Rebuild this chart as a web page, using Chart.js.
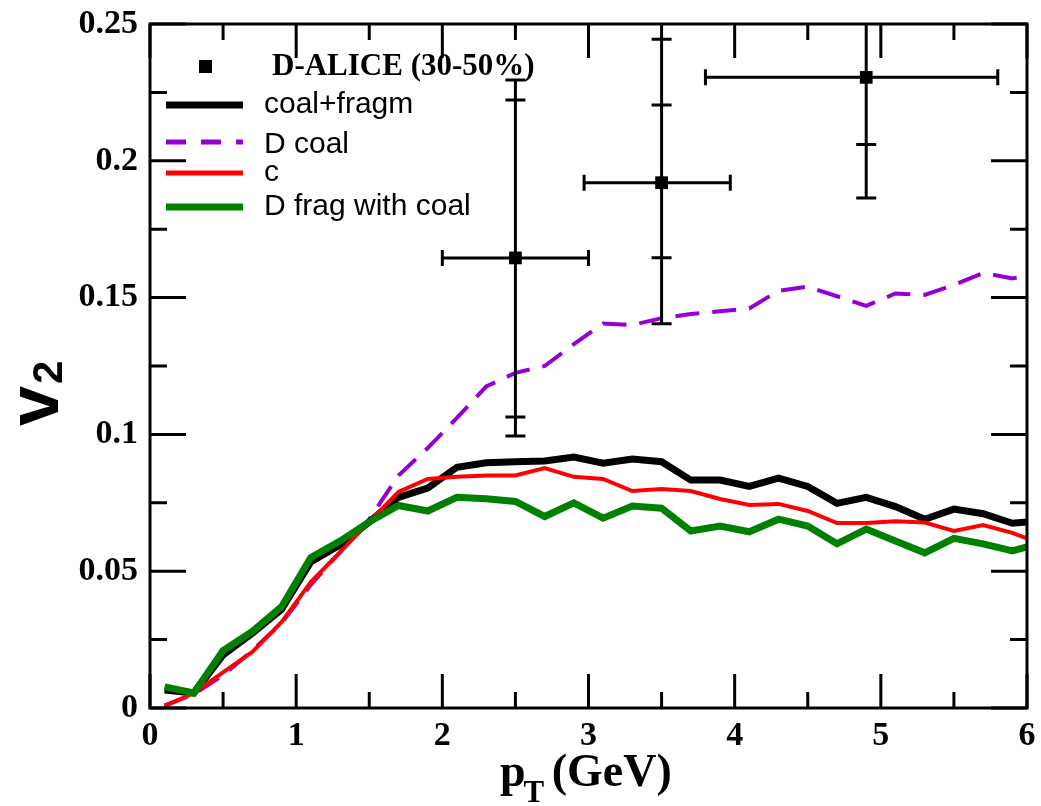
<!DOCTYPE html>
<html>
<head>
<meta charset="utf-8">
<script src="https://cdn.jsdelivr.net/npm/chart.js@4.4.1/dist/chart.umd.min.js"></script>
<style>
  html, body { margin: 0; padding: 0; background: #fff; }
  #wrap { width: 1041px; height: 806px; position: relative; }
</style>
</head>
<body>
<div id="wrap"><canvas id="v2Chart"></canvas></div>
<script>
// --- data ---
const pT = [0.1, 0.3, 0.5, 0.7, 0.9, 1.1, 1.3, 1.5, 1.7, 1.9, 2.1, 2.3, 2.5, 2.7, 2.9,
            3.1, 3.3, 3.5, 3.7, 3.9, 4.1, 4.3, 4.5, 4.7, 4.9, 5.1, 5.3, 5.5, 5.7, 5.9, 6.0];

const coalFragm = [0.0066, 0.0055, 0.0194, 0.0273, 0.036, 0.0534, 0.0596, 0.068, 0.077, 0.0804,
                   0.088, 0.0896, 0.090, 0.0903, 0.0917, 0.0895, 0.091, 0.090, 0.0833, 0.0833,
                   0.081, 0.084, 0.081, 0.0748, 0.077, 0.0736, 0.069, 0.0727, 0.071, 0.0675, 0.068];

const dCoal = [0.001, 0.005, 0.012, 0.021, 0.031, 0.045, 0.057, 0.069, 0.085, 0.095,
               0.106, 0.1175, 0.1225, 0.125, 0.133, 0.1405, 0.140, 0.1425, 0.144, 0.145,
               0.146, 0.1525, 0.154, 0.1505, 0.147, 0.1515, 0.151, 0.1546, 0.159, 0.157, 0.158];

const cQuark = [0.0007, 0.0055, 0.013, 0.0205, 0.0314, 0.046, 0.057, 0.068, 0.079, 0.0837,
                0.0845, 0.085, 0.085, 0.0877, 0.0845, 0.0837, 0.0793, 0.080, 0.0793, 0.0764,
                0.0742, 0.0746, 0.072, 0.0676, 0.0676, 0.0683, 0.0678, 0.0647, 0.0669, 0.064, 0.062];

const dFrag = [0.0077, 0.0055, 0.021, 0.028, 0.037, 0.055, 0.061, 0.068, 0.074, 0.072,
               0.077, 0.0765, 0.0755, 0.070, 0.075, 0.0694, 0.0738, 0.073, 0.0647, 0.0665,
               0.0644, 0.069, 0.0665, 0.060, 0.0654, 0.061, 0.0567, 0.062, 0.060, 0.0574, 0.0589];

// ALICE D mesons 30-50%
const aliceX = [2.5, 3.5, 4.9];
const aliceV2 = [0.1645, 0.192, 0.2305];
const aliceXLow = [2.0, 2.97, 3.8];
const aliceXHigh = [3.0, 3.97, 5.8];
const aliceStatLow = [0.0994, 0.1404, 0.1864];
const aliceStatHigh = [0.2295, 0.2444, 0.2746];
const aliceSysLow = [0.1064, 0.1646, 0.206];
const aliceSysHigh = [0.2222, 0.2204, 0.255];

const xMajorTicks = [0, 1, 2, 3, 4, 5, 6];
const yMajorTicks = [0, 0.05, 0.1, 0.15, 0.2, 0.25];

const serif = '"Liberation Serif", "DejaVu Serif", serif';
const sans = '"Liberation Sans", Arial, sans-serif';

function toPoints(xs, ys) {
    return xs.map((x, i) => ({ x: x, y: ys[i] }));
}

// frame, inward ticks, error bars, axis titles, legend
const decorPlugin = {
    id: 'decor',
    afterDatasetsDraw(chart) {
        const ctx = chart.ctx;
        const area = chart.chartArea;
        const xs = chart.scales.x;
        const ys = chart.scales.y;

        // error bars (stat with caps, sys as short marks)
        ctx.save();
        ctx.beginPath();
        ctx.rect(area.left, area.top, area.right - area.left, area.bottom - area.top);
        ctx.clip();
        ctx.strokeStyle = '#000';
        ctx.lineWidth = 3;
        for (let i = 0; i < aliceX.length; i++) {
            const px = xs.getPixelForValue(aliceX[i]);
            const py = ys.getPixelForValue(aliceV2[i]);
            const xl = xs.getPixelForValue(aliceXLow[i]);
            const xh = xs.getPixelForValue(aliceXHigh[i]);
            const yl = ys.getPixelForValue(aliceStatLow[i]);
            const yh = ys.getPixelForValue(aliceStatHigh[i]);
            ctx.beginPath();
            ctx.moveTo(xl, py); ctx.lineTo(xh, py);
            ctx.moveTo(xl, py - 8); ctx.lineTo(xl, py + 8);
            ctx.moveTo(xh, py - 8); ctx.lineTo(xh, py + 8);
            ctx.moveTo(px, yl); ctx.lineTo(px, yh);
            ctx.moveTo(px - 10, yl); ctx.lineTo(px + 10, yl);
            ctx.moveTo(px - 10, yh); ctx.lineTo(px + 10, yh);
            const sl = ys.getPixelForValue(aliceSysLow[i]);
            const sh = ys.getPixelForValue(aliceSysHigh[i]);
            ctx.moveTo(px - 10, sl); ctx.lineTo(px + 10, sl);
            ctx.moveTo(px - 10, sh); ctx.lineTo(px + 10, sh);
            ctx.stroke();
        }
        ctx.restore();

        // frame + ticks
        ctx.save();
        ctx.strokeStyle = '#000';
        ctx.lineWidth = 3;
        ctx.strokeRect(area.left, area.top, area.right - area.left, area.bottom - area.top);
        ctx.beginPath();
        for (let v = 0; v <= 6.001; v += 0.5) {
            const px = xs.getPixelForValue(v);
            const len = Math.abs(v - Math.round(v)) < 1e-6 ? 34 : 16;
            ctx.moveTo(px, area.bottom); ctx.lineTo(px, area.bottom - len);
            ctx.moveTo(px, area.top); ctx.lineTo(px, area.top + len);
        }
        for (let k = 0; k <= 10; k++) {
            const v = k * 0.025;
            const py = ys.getPixelForValue(v);
            const len = k % 2 === 0 ? 36 : 17;
            ctx.moveTo(area.left, py); ctx.lineTo(area.left + len, py);
            ctx.moveTo(area.right, py); ctx.lineTo(area.right - len, py);
        }
        ctx.stroke();
        ctx.restore();

        // axis titles
        ctx.save();
        ctx.fillStyle = '#000';
        ctx.textBaseline = 'alphabetic';
        ctx.textAlign = 'left';
        ctx.font = 'bold 46px ' + serif;
        const pW = ctx.measureText('p').width;
        const xStart = 500;
        ctx.fillText('p', xStart, 786);
        ctx.font = 'bold 31px ' + serif;
        const tW = ctx.measureText('T').width;
        ctx.fillText('T', xStart + pW - 2, 802);
        ctx.font = 'bold 46px ' + serif;
        ctx.fillText(' (GeV)', xStart + pW + tW - 6, 786);

        ctx.translate(58, 426);
        ctx.rotate(-Math.PI / 2);
        ctx.font = 'bold 72px ' + sans;
        const vW = ctx.measureText('v').width;
        ctx.fillText('v', 0, 0);
        ctx.font = 'bold 42px ' + sans;
        ctx.fillText('2', vW + 2, 4);
        ctx.restore();

        // legend
        ctx.save();
        ctx.fillStyle = '#000';
        ctx.fillRect(199, 60, 13, 13);
        ctx.font = 'bold 31px ' + serif;
        ctx.textBaseline = 'alphabetic';
        ctx.fillText('D-ALICE (30-50%)', 272, 75);
        const rows = [
            { label: 'coal+fragm', color: '#000000', width: 7, dash: [], y: 105, ty: 113 },
            { label: 'D coal', color: '#9400d3', width: 5, dash: [20, 15], y: 142, ty: 153 },
            { label: 'c', color: '#ff0000', width: 5, dash: [], y: 173, ty: 181 },
            { label: 'D frag with coal', color: '#008000', width: 7, dash: [], y: 207, ty: 215 }
        ];
        ctx.font = '30px ' + sans;
        rows.forEach(r => {
            ctx.beginPath();
            ctx.setLineDash(r.dash);
            ctx.strokeStyle = r.color;
            ctx.lineWidth = r.width;
            ctx.moveTo(166, r.y); ctx.lineTo(243, r.y);
            ctx.stroke();
            ctx.setLineDash([]);
            ctx.fillStyle = '#000';
            ctx.fillText(r.label, 264, r.ty);
        });
        ctx.restore();
    }
};

const chartData = {
    datasets: [
        {
            label: 'D-ALICE (30-50%)',
            data: toPoints(aliceX, aliceV2),
            showLine: false,
            pointStyle: 'rect',
            pointRadius: 9,
            backgroundColor: '#000',
            borderColor: '#000',
            borderWidth: 0,
            order: 0
        },
        {
            label: 'D frag with coal',
            data: toPoints(pT, dFrag),
            showLine: true,
            borderColor: '#008000',
            borderWidth: 7,
            pointRadius: 0,
            tension: 0,
            clip: 0,
            order: 1
        },
        {
            label: 'c',
            data: toPoints(pT, cQuark),
            showLine: true,
            borderColor: '#ff0000',
            borderWidth: 4,
            pointRadius: 0,
            tension: 0,
            clip: 0,
            order: 2
        },
        {
            label: 'coal+fragm',
            data: toPoints(pT, coalFragm),
            showLine: true,
            borderColor: '#000000',
            borderWidth: 7,
            pointRadius: 0,
            tension: 0,
            clip: 0,
            order: 3
        },
        {
            label: 'D coal',
            data: toPoints(pT, dCoal),
            showLine: true,
            borderColor: '#9400d3',
            borderWidth: 4,
            borderDash: [24, 13],
            pointRadius: 0,
            tension: 0,
            clip: 0,
            order: 4
        }
    ]
};

const chartOptions = {
    responsive: true,
    maintainAspectRatio: false,
    animation: false,
    layout: { padding: { top: 24, right: 14, left: 0, bottom: 0 } },
    scales: {
        x: {
            type: 'linear',
            min: 0,
            max: 6,
            grid: { display: false, drawTicks: false },
            border: { display: false },
            afterFit(scale) {
                scale.height = 98;
                scale.paddingLeft = 0;
                scale.paddingRight = 0;
            },
            afterBuildTicks(scale) { scale.ticks = xMajorTicks.map(v => ({ value: v })); },
            ticks: {
                color: '#000',
                padding: 8,
                maxRotation: 0,
                font: { family: serif, size: 34, weight: 'bold' },
                callback: v => String(v)
            }
        },
        y: {
            type: 'linear',
            min: 0,
            max: 0.25,
            grid: { display: false, drawTicks: false },
            border: { display: false },
            afterFit(scale) {
                scale.width = 150;
                scale.paddingTop = 0;
                scale.paddingBottom = 0;
            },
            afterBuildTicks(scale) { scale.ticks = yMajorTicks.map(v => ({ value: v })); },
            ticks: {
                color: '#000',
                padding: 12,
                font: { family: serif, size: 34, weight: 'bold' },
                callback: v => String(Number(v.toFixed(3)))
            }
        }
    },
    plugins: {
        legend: { display: false },
        tooltip: { enabled: false }
    }
};

new Chart(document.getElementById('v2Chart'), {
    type: 'scatter',
    data: chartData,
    options: chartOptions,
    plugins: [decorPlugin]
});
</script>
</body>
</html>
